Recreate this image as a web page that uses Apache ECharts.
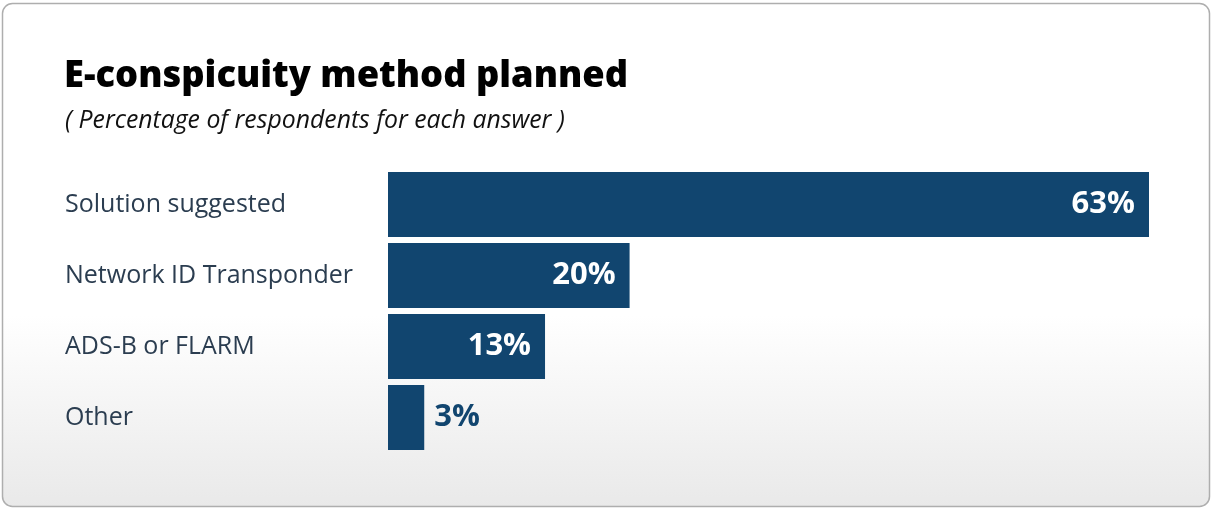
<!DOCTYPE html>
<html>
<head>
<meta charset="utf-8">
<script src="https://cdn.jsdelivr.net/npm/echarts@6/dist/echarts.min.js"></script>
<style>
  html, body { margin: 0; padding: 0; background: #ffffff; }
  #chart { width: 1212px; height: 508px; }
</style>
</head>
<body>
<div id="chart"></div>
<script>
// Survey answers, top to bottom
const categories = ['Solution suggested', 'Network ID Transponder', 'ADS-B or FLARM', 'Other'];
// Share of respondents (%)
const shares = [63, 20, 13, 3];

const titleText = 'E-conspicuity method planned';
const subtitleText = '( Percentage of respondents for each answer )';

const barColor = '#11456f';
const fontFamily = '"Open Sans", "Noto Sans", sans-serif';

// Short bars carry their label outside in the bar colour
const seriesData = shares.map(v => {
  const inside = v >= 10;
  return {
    value: v,
    label: inside
      ? { position: 'insideRight', color: '#ffffff', distance: 14 }
      : { position: 'right', color: barColor, distance: 10 }
  };
});

const chart = echarts.init(document.getElementById('chart'), null, { renderer: 'canvas' });

chart.setOption({
  animation: false,
  backgroundColor: '#ffffff',
  graphic: [{
    type: 'rect',
    z: -10,
    silent: true,
    shape: { x: 2.5, y: 3.5, width: 1207, height: 503, r: 10 },
    style: {
      fill: new echarts.graphic.LinearGradient(0, 0, 0, 1, [
        { offset: 0, color: '#ffffff' },
        { offset: 0.62, color: '#ffffff' },
        { offset: 1, color: '#e9e9e9' }
      ]),
      stroke: '#aeaeae',
      lineWidth: 1.5
    }
  }],
  title: [{
    text: titleText,
    left: 64,
    top: 59,
    padding: 0,
    textStyle: { fontFamily, fontWeight: 800, fontSize: 36.3, color: '#000000' }
  }, {
    text: subtitleText,
    left: 65,
    top: 108,
    padding: 0,
    textStyle: { fontFamily, fontStyle: 'italic', fontWeight: 'normal', fontSize: 24.8, color: '#111111' }
  }],
  grid: { left: 388, top: 169, width: 761, height: 284, containLabel: false },
  xAxis: {
    type: 'value',
    min: 0,
    max: 63,
    show: false
  },
  yAxis: {
    type: 'category',
    data: categories,
    inverse: true,
    axisLine: { show: false },
    axisTick: { show: false },
    splitLine: { show: false },
    axisLabel: {
      align: 'left',
      margin: 323,
      fontFamily,
      fontSize: 25,
      color: '#2b3d50'
    }
  },
  series: [{
    type: 'bar',
    data: seriesData,
    barCategoryGap: '8.5%',
    itemStyle: { color: barColor },
    label: {
      show: true,
      formatter: '{c}%',
      fontFamily,
      fontWeight: 'bold',
      fontSize: 31
    }
  }]
});
</script>
</body>
</html>
